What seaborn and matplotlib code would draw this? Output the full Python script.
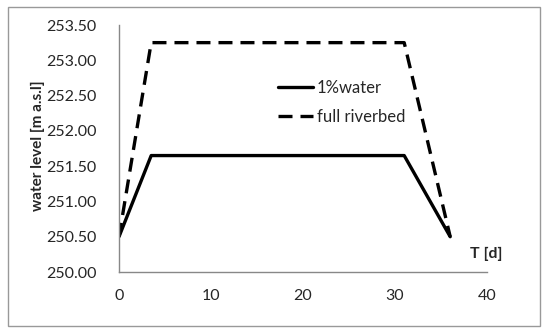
import numpy as np
import pandas as pd
import matplotlib
matplotlib.use("Agg")
import matplotlib.pyplot as plt
import seaborn as sns
from matplotlib.patches import Rectangle

# -------------------------------
# Data
# -------------------------------
t_days = [0, 3.5, 31, 36]
level_1pct = [250.50, 251.65, 251.65, 250.50]
level_full = [250.50, 253.25, 253.25, 250.50]
y_ticks = [250.0, 250.5, 251.0, 251.5, 252.0, 252.5, 253.0, 253.5]
x_ticks = [0, 10, 20, 30, 40]

df = pd.DataFrame({
    "T": t_days * 2,
    "level": level_1pct + level_full,
    "series": ["1%water"] * 4 + ["full riverbed"] * 4,
})

sns.set_style("white")
plt.rcParams["font.family"] = ["Lato", "DejaVu Sans"]

fig = plt.figure(figsize=(5.5, 3.33), dpi=100)
ax = fig.add_axes([119 / 550, 1 - 272 / 333, (487 - 119) / 550, (272 - 25) / 333])

sns.lineplot(data=df, x="T", y="level", style="series",
             dashes={"1%water": "", "full riverbed": (4.2, 2.4)},
             color="black", linewidth=2.4, ax=ax)

ax.set_xlim(0, 40)
ax.set_ylim(250, 253.5)
ax.set_xticks(x_ticks)
ax.set_yticks(y_ticks)
ax.set_yticklabels([f"{v:.2f}" for v in y_ticks])
ax.tick_params(direction="in", length=5, color="#888888", labelsize=11.5, pad=12)
ax.tick_params(axis="y", pad=16)
for s in ["top", "right"]:
    ax.spines[s].set_visible(False)
for s in ["left", "bottom"]:
    ax.spines[s].set_color("#888888")
    ax.spines[s].set_linewidth(1.0)

ax.set_xlabel("")
ax.set_ylabel("water level [m a.s.l]", fontsize=11, fontweight="bold")
ax.yaxis.set_label_coords(-0.2, 0.51)
ax.text(39.9, 250.25, "T [d]", fontsize=11.5, fontweight="bold", ha="center", va="center")

leg = ax.legend(loc="upper left", bbox_to_anchor=(0.39, 0.84), frameon=False,
                fontsize=12, handlelength=2.1, labelspacing=0.8, handletextpad=0.25)

# outer chart border
fig.patches.append(Rectangle((8 / 550, 7 / 333), 532 / 550, 319 / 333, transform=fig.transFigure,
                             fill=False, edgecolor="#999999", linewidth=1.0))

plt.savefig("out.png", dpi=100)
